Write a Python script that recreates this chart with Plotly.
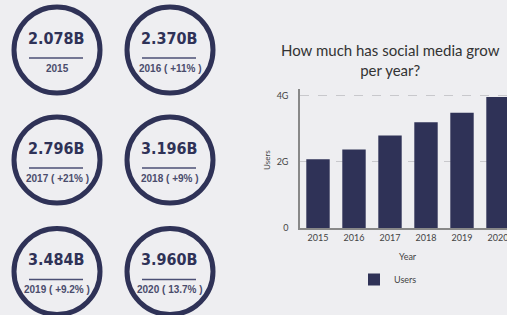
import plotly.graph_objects as go

years = ["2015", "2016", "2017", "2018", "2019", "2020"]
users = [2.078e9, 2.370e9, 2.796e9, 3.196e9, 3.484e9, 3.960e9]
badge_values = ["2.078B", "2.370B", "2.796B", "3.196B", "3.484B", "3.960B"]
badge_labels = ["2015", "2016 ( +11% )", "2017 ( +21% )", "2018 ( +9% )", "2019 ( +9.2% )", "2020 ( 13.7% )"]
y_ticks = [0, 2e9, 4e9]
y_tick_labels = ["0", "2G", "4G"]
title_text = "How much has social media grow<br>per year?"

W, H = 507, 315
BG = "#EEEEF1"
NAVY = "#2F3257"

def px(x):
    return x / W

def py(y):
    return 1 - y / H

fig = go.Figure()
fig.add_trace(go.Bar(x=years, y=users, name="Users", marker_color=NAVY,
                     marker_line_width=0, showlegend=True))

shapes = []
annotations = []
col_x = [57, 170]
row_y = [50, 160, 271.5]
R = 43
for i, (val, lab) in enumerate(zip(badge_values, badge_labels)):
    cx = col_x[i % 2]
    cy = row_y[i // 2]
    shapes.append(dict(type="circle", xref="paper", yref="paper",
                       x0=px(cx - R), x1=px(cx + R), y0=py(cy + R), y1=py(cy - R),
                       line=dict(color=NAVY, width=5), fillcolor="rgba(0,0,0,0)", layer="below"))
    shapes.append(dict(type="line", xref="paper", yref="paper",
                       x0=px(cx - 28), x1=px(cx + 26), y0=py(cy + 8), y1=py(cy + 8),
                       line=dict(color="#4B4F75", width=1.5)))
    annotations.append(dict(text="<b>%s</b>" % val, xref="paper", yref="paper",
                            x=px(cx - 1), y=py(cy - 12), xanchor="center", yanchor="middle",
                            showarrow=False,
                            font=dict(family="DejaVu Sans Condensed, sans-serif",
                                      size=16, color=NAVY)))
    annotations.append(dict(text="<b>%s</b>" % lab, xref="paper", yref="paper",
                            x=px(cx), y=py(cy + 18), xanchor="center", yanchor="middle",
                            showarrow=False,
                            font=dict(family="Liberation Sans, Arial, sans-serif", size=10, color="#4A4C6C")))

annotations.append(dict(text=title_text, xref="paper", yref="paper",
                        x=px(390), y=py(60), xanchor="center", yanchor="middle",
                        showarrow=False, borderpad=0,
                        font=dict(family="Lato, sans-serif", size=15, color="#333333")))
annotations.append(dict(text="Year", xref="paper", yref="paper", x=px(408), y=py(256),
                        xanchor="center", yanchor="middle", showarrow=False,
                        font=dict(family="Lato, sans-serif", size=9, color="#444444")))
annotations.append(dict(text="Users", xref="paper", yref="paper", x=px(267), y=py(160),
                        xanchor="center", yanchor="middle", showarrow=False, textangle=-90,
                        font=dict(family="Lato, sans-serif", size=8, color="#444444")))

fig.update_layout(
    width=W, height=H,
    margin=dict(l=0, r=0, t=0, b=0),
    paper_bgcolor=BG, plot_bgcolor=BG,
    bargap=0.35,
    shapes=shapes,
    annotations=annotations,
    showlegend=True,
    legend=dict(x=px(354), y=py(265), xanchor="left", yanchor="top",
                bgcolor="rgba(0,0,0,0)",
                font=dict(family="Lato, sans-serif", size=9, color="#444444")),
    xaxis=dict(domain=[px(300), 1], range=[-0.5, 5.25], type="category",
               showline=True, linecolor="#888888", linewidth=1.5,
               showgrid=False, ticks="", automargin=False,
               tickfont=dict(family="Lato, sans-serif", size=9, color="#444444")),
    yaxis=dict(domain=[py(228), py(89)], range=[0, 4.2e9],
               tickvals=y_ticks, ticktext=y_tick_labels,
               showline=True, linecolor="#888888", linewidth=1.5,
               showgrid=True, gridcolor="#C8C8CC", griddash="dash", gridwidth=1,
               zeroline=False, ticks="", automargin=False, ticklabelstandoff=8,
               tickfont=dict(family="Lato, sans-serif", size=9, color="#444444")),
)

fig.write_html("out.html", config={"displayModeBar": False},
               post_script="document.body.style.margin='0';document.body.style.overflow='hidden';"
                           "document.body.style.background='#EEEEF1';")
